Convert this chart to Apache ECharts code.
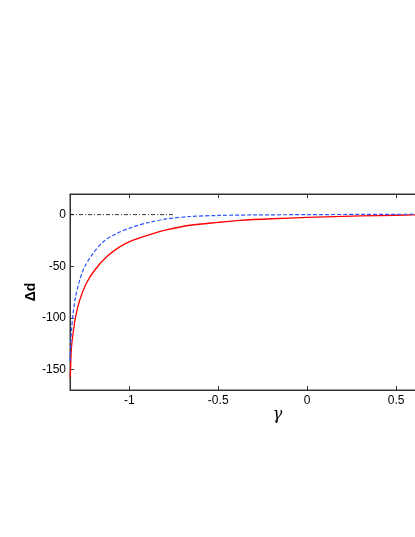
<!DOCTYPE html>
<html>
<head>
<meta charset="utf-8">
<script src="https://cdn.jsdelivr.net/npm/echarts@6/dist/echarts.min.js"></script>
<style>html,body{margin:0;padding:0;background:#fff}#c{width:415px;height:537px}</style>
</head>
<body>
<div id="c"></div>
<script>
var xTicks = [-1, -0.5, 0, 0.5];
var yTicks = [-150, -100, -50, 0];
var gammaRed = [-1.3333, -1.331, -1.326, -1.316, -1.302, -1.279, -1.242, -1.195, -1.129, -1.054, -0.979, -0.886, -0.792, -0.657, -0.5, -0.376, -0.2, 0, 0.2, 0.4, 0.6, 0.8, 1.0];
var redVals = [-158, -154, -131, -115, -99, -83, -66.8, -53.9, -41, -31.3, -24.8, -19.4, -14.8, -10.3, -7.5, -5.6, -4, -2.7, -1.7, -0.9, -0.3, 0.1, 0.4];
var gammaBlue = [-1.3333, -1.331, -1.326, -1.316, -1.302, -1.279, -1.251, -1.204, -1.148, -1.073, -0.979, -0.886, -0.792, -0.657, -0.5, -0.3, 0, 0.3, 0.6, 0.8, 1.0];
var blueVals = [-142, -134, -115, -96, -79.7, -63.5, -50.6, -37.7, -26.5, -18.4, -11.9, -7.4, -4.2, -1.8, -0.8, -0.3, 0, 0.2, 0.4, 0.5, 0.6];
var refX = [-1.3333, -0.75];
var refY = [0, 0];

function pairs(xs, ys) { return xs.map(function (x, i) { return [x, ys[i]]; }); }

var font = 'Liberation Sans, Arial, sans-serif';
var chart = echarts.init(document.getElementById('c'), null, {renderer: 'canvas'});
chart.setOption({
  animation: false,
  backgroundColor: '#fff',
  grid: {left: 70, top: 194, width: 415, height: 196, outerBoundsMode: 'none', containLabel: false,
    show: true, borderColor: '#333', borderWidth: 1, backgroundColor: 'transparent'},
  xAxis: [{
    type: 'value', min: -1.3333, max: 1, position: 'bottom',
    axisLine: {show: true, onZero: false, lineStyle: {color: '#333', width: 1}},
    axisTick: {show: true, inside: true, length: 4, customValues: xTicks, lineStyle: {color: '#333'}},
    axisLabel: {customValues: xTicks, color: '#000', fontFamily: font, fontSize: 12, margin: 5,
      formatter: function (v) { return String(v); }},
    splitLine: {show: false},
    name: 'γ', nameLocation: 'middle', nameGap: 17, nameMoveOverlap: false,
    nameTextStyle: {color: '#000', fontFamily: 'DejaVu Serif, serif', fontStyle: 'italic', fontSize: 16}
  }, {
    type: 'value', min: -1.3333, max: 1, position: 'top',
    axisLine: {show: true, onZero: false, lineStyle: {color: '#333', width: 1}},
    axisTick: {show: true, inside: true, length: 4, customValues: xTicks, lineStyle: {color: '#333'}},
    axisLabel: {show: false},
    splitLine: {show: false}
  }],
  yAxis: [{
    type: 'value', min: -170, max: 20,
    axisLine: {show: true, onZero: false, lineStyle: {color: '#333', width: 1}},
    axisTick: {show: true, inside: true, length: 4, customValues: yTicks, lineStyle: {color: '#333'}},
    axisLabel: {customValues: yTicks, color: '#000', fontFamily: font, fontSize: 12, margin: 4},
    splitLine: {show: false},
    name: 'Δd', nameLocation: 'middle', nameGap: 32, nameRotate: 90, nameMoveOverlap: false,
    nameTextStyle: {color: '#000', fontFamily: font, fontWeight: 'bold', fontSize: 14}
  }],
  series: [{
    type: 'line', data: pairs(refX, refY), showSymbol: false, symbol: 'none',
    lineStyle: {color: '#000', width: 0.8, type: [4, 2, 1, 2]}, z: 1
  }, {
    type: 'line', data: pairs(gammaRed, redVals), showSymbol: false, symbol: 'none',
    smooth: 0.3,
    lineStyle: {color: '#ff0000', width: 1.3}, z: 2
  }, {
    type: 'line', data: pairs(gammaBlue, blueVals), showSymbol: false, symbol: 'none',
    smooth: 0.3,
    lineStyle: {color: '#2a55ff', width: 1.2, type: [4, 2]}, z: 3
  }]
});
</script>
</body>
</html>
